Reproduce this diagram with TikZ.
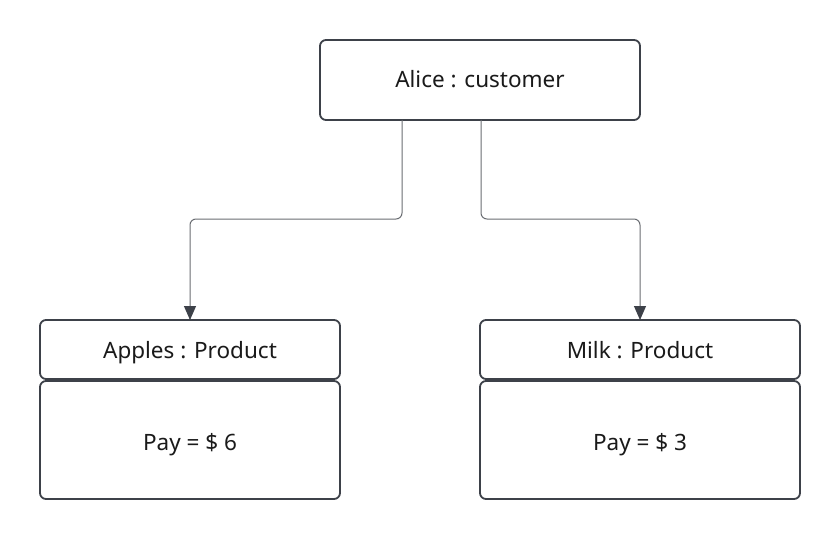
\documentclass[tikz,border=0pt]{standalone}
\usepackage{fontspec}
\setmainfont{Noto Sans}
\usetikzlibrary{arrows.meta}
\definecolor{boxline}{HTML}{3D4149}
\definecolor{conline}{HTML}{6B6E73}
\definecolor{txt}{HTML}{1A1A1A}
\tikzset{
  box/.style={draw=boxline, line width=1.8pt, rounded corners=6pt, fill=white},
  lbl/.style={text=txt, font=\fontsize{22.5}{27}\selectfont, inner sep=0pt, anchor=base},
  conn/.style={draw=conline, line width=1pt, rounded corners=6pt, -{Triangle[length=14pt,width=12pt,color=boxline]}}
}
\begin{document}
\begin{tikzpicture}[x=1pt,y=-1pt]
\useasboundingbox[fill=white] (0,0) rectangle (840,540);
% top box
\draw[box] (320,40) rectangle (640,120);
\node[lbl] (alice) at (480,88) {Alice : customer};
\coordinate (aliceL) at (402,120);
\coordinate (aliceR) at (481,120);
% left class
\draw[box] (40,320) rectangle (340,379);
\draw[box] (40,381) rectangle (340,499);
\node[lbl] (apples) at (190,358) {Apples : Product};
\node[lbl] (pay6) at (190,450) {Pay = \$ 6};
\coordinate (applesT) at (190,320);
% right class
\draw[box] (480,320) rectangle (800,379);
\draw[box] (480,381) rectangle (800,499);
\node[lbl] (milk) at (640,358) {Milk : Product};
\node[lbl] (pay3) at (640,450) {Pay = \$ 3};
\coordinate (milkT) at (640,320);
% connectors
\draw[conn] (aliceL) |- (296,219) -| (applesT);
\draw[conn] (aliceR) |- (560,219) -| (milkT);
\end{tikzpicture}
\end{document}
